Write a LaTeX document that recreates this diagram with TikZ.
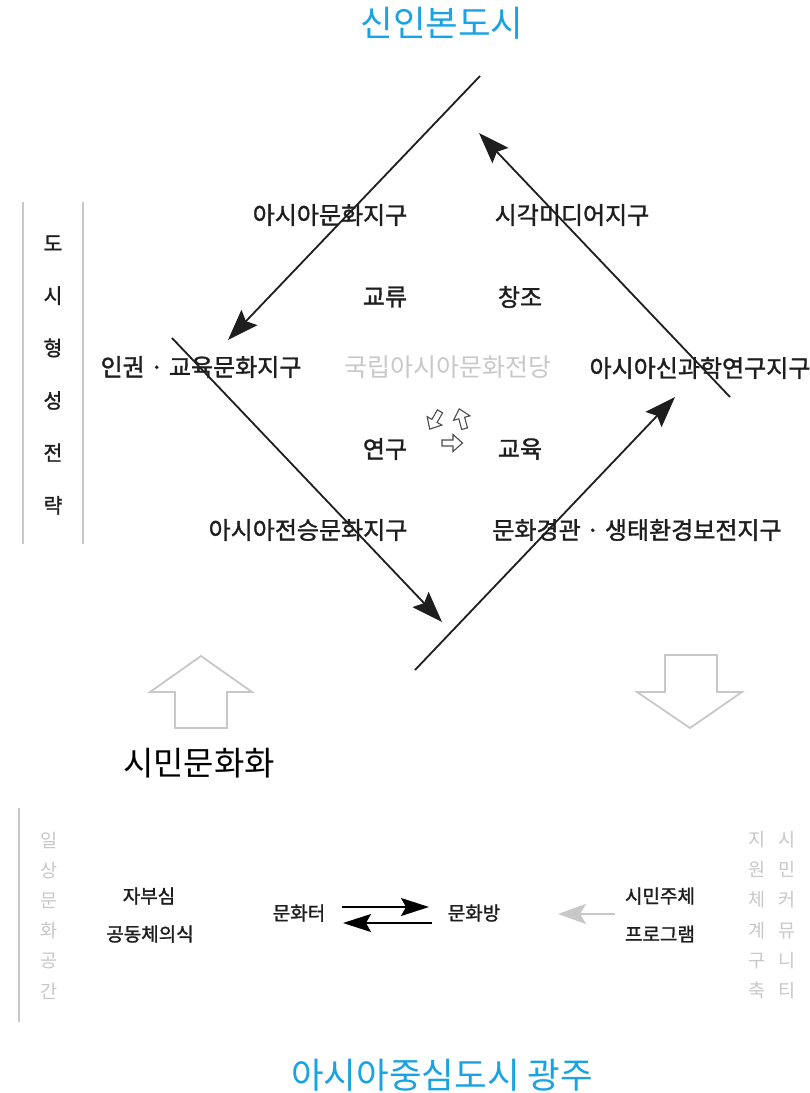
\documentclass[tikz,border=0pt]{standalone}
\usepackage{fontspec}
\newfontfamily\kr{Noto Sans CJK KR}
\newfontfamily\krb[FakeBold=1.4]{Noto Sans CJK KR}
\usetikzlibrary{arrows.meta}
\definecolor{titlecyan}{HTML}{1AA3E3}
\definecolor{lightg}{HTML}{C8C8C8}
\definecolor{txt}{HTML}{1E1E1E}
\tikzset{
  title/.style={font=\kr\fontsize{35.5}{35.5}\selectfont, text=titlecyan, inner sep=0pt},
  region/.style={font=\krb\fontsize{24}{24}\selectfont, text=txt, inner sep=0pt},
  hall/.style={font=\kr\fontsize{25}{25}\selectfont, text=lightg, inner sep=0pt},
  vert/.style={font=\krb\fontsize{20.5}{52.4}\selectfont, text=txt, inner sep=0pt, align=center},
  vertg/.style={font=\kr\fontsize{18.5}{30.2}\selectfont, text=lightg, inner sep=0pt, align=center},
  small/.style={font=\krb\fontsize{19}{19}\selectfont, text=txt, inner sep=0pt},
  civic/.style={font=\kr\fontsize{33}{33}\selectfont, text=black, inner sep=0pt},
  flow/.style={line width=1.8pt, draw=txt, -{Stealth[length=31pt,width=22pt,inset=5pt]}},
  swap/.style={line width=1.4pt, draw=black, -{Stealth[length=28pt,width=18pt,inset=5pt]}},
  grayflow/.style={line width=2.8pt, draw=lightg, -{Stealth[length=28pt,width=20pt,inset=6pt]}},
  rule/.style={line width=1.2pt, draw=lightg},
  bigarrow/.style={line width=1.8pt, draw=lightg, fill=white, line join=miter},
  harrow/.pic={\draw[line width=1.1pt, draw=black!70, fill=white, line join=miter]
     (-10,-3) -- (1,-3) -- (1,-8.5) -- (10.5,0) -- (1,8.5) -- (1,3) -- (-10,3) -- cycle;}
}
\begin{document}
\begin{tikzpicture}[x=1pt,y=-1pt]
\useasboundingbox[fill=white] (0,0) rectangle (810,1093);

% titles
\node[title] (ttop) at (442,23) {신인본도시};
\node[title] (tbot) at (442,1075) {아시아중심도시 광주};

% left strategy column
\coordinate (r1a) at (23,202); \coordinate (r1b) at (23,544);
\coordinate (r2a) at (83,202); \coordinate (r2b) at (83,544);
\draw[rule] (r1a) -- (r1b);
\draw[rule] (r2a) -- (r2b);
\node[vert] (strat) at (53,375) {도\\시\\형\\성\\전\\략};

% diamond lines
\coordinate (l1s) at (480,76);  \coordinate (l1e) at (228,340);
\coordinate (l2s) at (172,338); \coordinate (l2e) at (442,622);
\coordinate (l3s) at (415,670); \coordinate (l3e) at (675,397);
\coordinate (l4s) at (730,397); \coordinate (l4e) at (479,133);
\draw[flow] (l1s) -- (l1e);
\draw[flow] (l2s) -- (l2e);
\draw[flow] (l3s) -- (l3e);
\draw[flow] (l4s) -- (l4e);

% region labels
\node[region] (asiacult) at (330,215) {아시아문화지구};
\node[region] (visual) at (572,215) {시각미디어지구};
\node[region] (exch) at (385,297) {교류};
\node[region] (creat) at (520,297) {창조};
\node[region] (human) at (201,367) {인권 · 교육문화지구};
\node[hall] (hall) at (448,367) {국립아시아문화전당};
\node[region] (science) at (700,368) {아시아신과학연구지구};
\node[region] (research) at (385,449) {연구};
\node[region] (educ) at (520,449) {교육};
\node[region] (heritage) at (308,530) {아시아전승문화지구};
\node[region] (landscape) at (637,530) {문화경관 · 생태환경보전지구};

% small cycle arrows
\pic[rotate=240] at (435,420) {harrow};
\pic[rotate=105] at (462,419) {harrow};
\pic at (452,443) {harrow};

% big hollow arrows
\draw[bigarrow] (201,656) -- (252,692) -- (227,692) -- (227,728) -- (175,728) -- (175,692) -- (150,692) -- cycle;
\draw[bigarrow] (665,655) -- (717,655) -- (717,692) -- (742,692) -- (690,728) -- (637,692) -- (665,692) -- cycle;

\node[civic] (civic) at (199,763) {시민문화화};

% bottom section
\coordinate (r3a) at (19,808); \coordinate (r3b) at (19,1022);
\draw[rule] (r3a) -- (r3b);
\node[vertg] (daily) at (49,915.5) {일\\상\\문\\화\\공\\간};
\node[vertg] (support) at (757,915) {지\\원\\체\\계\\구\\축};
\node[vertg] (commun) at (787,915) {시\\민\\커\\뮤\\니\\티};

\node[small] (pride) at (149,896) {자부심};
\node[small] (commu) at (150,934) {공동체의식};
\node[small] (teo) at (299,913) {문화터};
\node[small] (bang) at (474,913) {문화방};
\node[small] (citizen) at (660,896) {시민주체};
\node[small] (program) at (660,934) {프로그램};

\coordinate (s1a) at (342,907); \coordinate (s1b) at (429,907);
\coordinate (s2a) at (432,923); \coordinate (s2b) at (343,923);
\draw[swap] (s1a) -- (s1b);
\draw[swap] (s2a) -- (s2b);
\coordinate (g1) at (615,914); \coordinate (g2) at (558,914);
\draw[grayflow] (g1) -- (g2);
\end{tikzpicture}
\end{document}
